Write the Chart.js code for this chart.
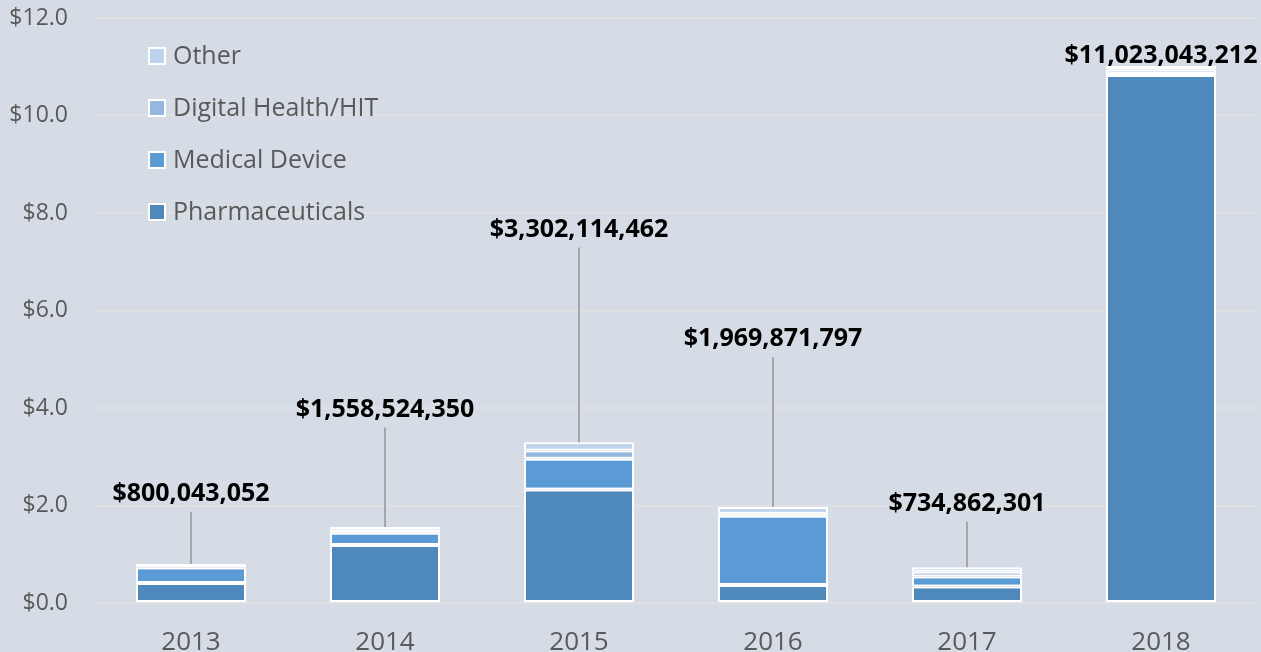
<!DOCTYPE html>
<html>
<head>
<meta charset="utf-8">
<script src="https://cdn.jsdelivr.net/npm/chart.js@4"></script>
<style>
    html, body { margin: 0; padding: 0; background: #d6dce5; }
    #wrap { width: 1261px; height: 652px; }
</style>
</head>
<body>
<div id="wrap"><canvas id="fundingChart"></canvas></div>
<script>
// values in $ billions
const years = ['2013', '2014', '2015', '2016', '2017', '2018'];
const pharma = [0.41, 1.19, 2.33, 0.37, 0.34, 10.83];
const medical = [0.32, 0.25, 0.63, 1.42, 0.205, 0.02];
const digital = [0.03, 0.07, 0.17, 0.04, 0.095, 0.09];
const other = [0.04, 0.05, 0.17, 0.14, 0.095, 0.08];
const totals = [800043052, 1558524350, 3302114462, 1969871797, 734862301, 11023043212];
// where each total label sits, in $ billions on the y scale
const labelLevels = [2.24, 3.97, 7.66, 5.41, 2.04, 11.22];
const yTicks = [0, 2, 4, 6, 8, 10, 12];

const colors = {
    pharma: '#4f88bb',
    medical: '#5b9bd5',
    digital: '#94b8e0',
    other: '#bdd3ee'
};

function money(n) {
    return '$' + n.toLocaleString('en-US');
}

// total labels with grey leader lines down to the bar top
const totalLabels = {
    id: 'totalLabels',
    afterDatasetsDraw(chart) {
        const { ctx, scales: { x, y } } = chart;
        ctx.save();
        ctx.font = 'bold 25px "Open Sans"';
        ctx.textAlign = 'center';
        ctx.textBaseline = 'middle';
        years.forEach((yr, i) => {
            const cx = x.getPixelForValue(i);
            const ly = y.getPixelForValue(labelLevels[i]);
            const sum = pharma[i] + medical[i] + digital[i] + other[i];
            const top = y.getPixelForValue(sum);
            if (top - ly > 30) {
                ctx.strokeStyle = '#a6a6a6';
                ctx.lineWidth = 2;
                ctx.beginPath();
                ctx.moveTo(cx, ly + 18);
                ctx.lineTo(cx, top);
                ctx.stroke();
            }
            ctx.fillStyle = '#000';
            ctx.fillText(money(totals[i]), cx, ly);
        });
        ctx.restore();
    }
};

// legend stacked top-left inside the plot, top series first
const insideLegend = {
    id: 'insideLegend',
    afterDraw(chart) {
        const { ctx } = chart;
        const items = chart.data.datasets.slice().reverse();
        ctx.save();
        ctx.font = '25px "Open Sans"';
        ctx.textBaseline = 'middle';
        items.forEach((ds, i) => {
            const cy = 56 + i * 52;
            ctx.fillStyle = '#fff';
            ctx.fillRect(148, cy - 9, 18, 18);
            ctx.fillStyle = ds.backgroundColor;
            ctx.fillRect(150, cy - 7, 14, 14);
            ctx.fillStyle = '#595959';
            ctx.fillText(ds.label, 173, cy + 1);
        });
        ctx.restore();
    }
};

function makeSet(label, data, color) {
    return {
        label,
        data,
        backgroundColor: color,
        borderColor: '#ffffff',
        borderWidth: 2,
        borderSkipped: false,
        barPercentage: 0.567,
        categoryPercentage: 1
    };
}

new Chart(document.getElementById('fundingChart'), {
    type: 'bar',
    data: {
        labels: years,
        datasets: [
            makeSet('Pharmaceuticals', pharma, colors.pharma),
            makeSet('Medical Device', medical, colors.medical),
            makeSet('Digital Health/HIT', digital, colors.digital),
            makeSet('Other', other, colors.other)
        ]
    },
    options: {
        responsive: true,
        maintainAspectRatio: false,
        animation: false,
        layout: { padding: { top: 18, right: 3, left: 0, bottom: 0 } },
        plugins: {
            legend: { display: false },
            tooltip: { enabled: false }
        },
        scales: {
            x: {
                stacked: true,
                grid: { display: false },
                border: { display: false },
                ticks: { color: '#595959', font: { family: 'Open Sans', size: 26 }, padding: 16 },
                afterFit(scale) { scale.height = 49; }
            },
            y: {
                stacked: true,
                min: 0,
                max: 12,
                afterBuildTicks(scale) { scale.ticks = yTicks.map(v => ({ value: v })); },
                grid: { color: '#dfe0e2', lineWidth: 2, drawTicks: false },
                border: { display: false },
                ticks: {
                    color: '#595959',
                    font: { family: 'Open Sans', size: 23 },
                    padding: 26,
                    callback: v => '$' + Number(v).toFixed(1)
                },
                afterFit(scale) {
                    scale.width = 94;
                    scale.paddingTop = 0;
                    scale.paddingBottom = 0;
                }
            }
        }
    },
    plugins: [totalLabels, insideLegend]
});
</script>
</body>
</html>
